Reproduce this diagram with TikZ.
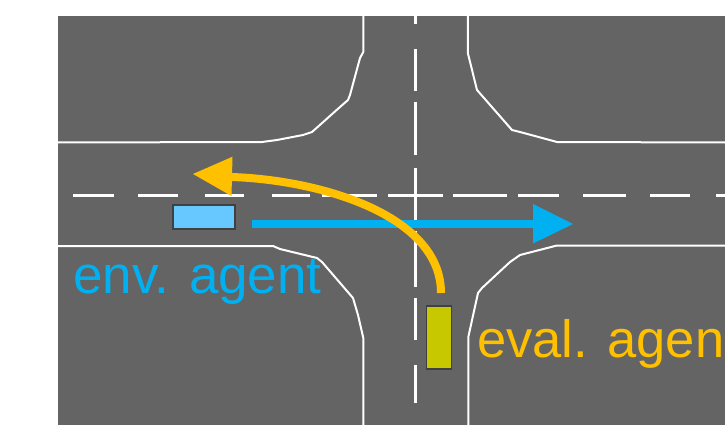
\documentclass[tikz,border=0pt]{standalone}
\usepackage{fontspec}
\setmainfont{Liberation Sans}
\definecolor{road}{HTML}{646464}
\definecolor{envblue}{HTML}{00B0F0}
\definecolor{evalgold}{HTML}{FFC000}
\definecolor{carblue}{HTML}{66C8FF}
\definecolor{caryellow}{HTML}{C8C800}
\definecolor{carborder}{HTML}{404040}
\tikzset{
  edgeline/.style={draw=white, line width=2pt, line join=round},
  dashline/.style={draw=white, line width=3pt},
  car/.style={draw=carborder, line width=1.5pt},
  label/.style={inner sep=0pt, anchor=base west, font=\fontsize{53}{60}\selectfont}
}
\begin{document}
\begin{tikzpicture}[x=1pt,y=-1pt]
\useasboundingbox (0,0) rectangle (725,425);
\fill[white] (0,0) rectangle (725,425);
\fill[road] (58,16) rectangle (725,425);
% road edges
\draw[edgeline] (58,142.5) -- (262,142) -- (277,140) -- (303,135) -- (312,132) -- (340,107) -- (348,100) -- (350,95) -- (360,58) -- (363.3,52) -- (363.3,16);
\draw[edgeline] (467.8,16) -- (467.8,53) -- (477,90) -- (512,130) -- (520,132) -- (557,142) -- (725,142.5);
\draw[edgeline] (58,246) -- (273,246) -- (280,249) -- (317,258) -- (322,262) -- (353,298) -- (358,315) -- (363.3,338) -- (363.3,425);
\draw[edgeline] (725,245.5) -- (557,245.5) -- (520,255) -- (510,262) -- (482,288) -- (478,293) -- (468.3,337) -- (468.3,425);
% horizontal centre dashes
\foreach \a/\b in {73/114,138/178,205/244,272/310,322/377,388/443,453/507,518/559,583/626,650/690,716/725}
  \draw[dashline] (\a,195) -- (\b,195);
% vertical centre dashes
\foreach \a/\b in {16/24,49/91,102/155,168/220,231/287,298/340,365/403}
  \draw[dashline] (415,\a) -- (415,\b);
% cars
\node[car, fill=carblue, inner sep=0pt, minimum width=62pt, minimum height=24pt] (envcar) at (204,217) {};
\node[car, fill=caryellow, inner sep=0pt, minimum width=25pt, minimum height=63pt] (evalcar) at (439.2,337.6) {};
% blue arrow
\coordinate (bstart) at (252,224);
\coordinate (bend) at (534,224);
\draw[envblue, line width=8pt] (bstart) -- (bend);
\fill[envblue] (533,204) -- (573,224) -- (533,243.5) -- cycle;
% yellow arrow
\coordinate (ystart) at (441,293);
\coordinate (yend) at (232,177);
\draw[evalgold, line width=8pt] (ystart) .. controls (441,215) and (320,180) .. (yend);
\fill[evalgold] (232.5,156.7) -- (193,174) -- (231.5,196) -- cycle;
% labels
\node[label, text=envblue] (envlabel) at (73,293) {env. agent};
\node[label, text=evalgold, font=\fontsize{52.5}{60}\selectfont] (evallabel) at (477,357) {eval. agen};
\end{tikzpicture}
\end{document}
